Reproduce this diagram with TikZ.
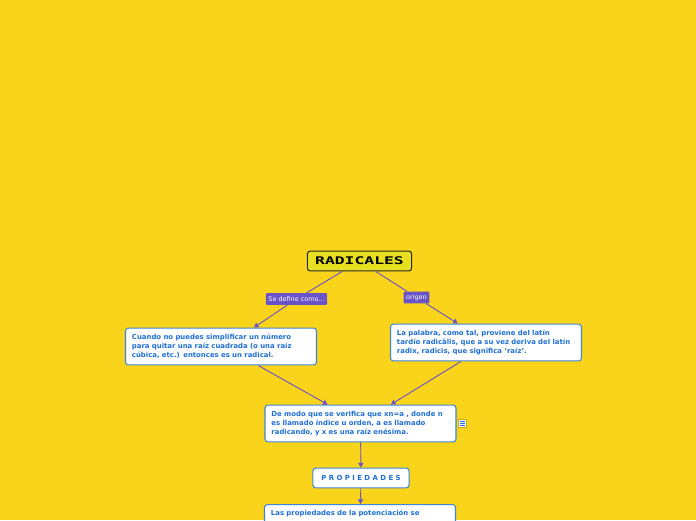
\documentclass[tikz,border=0pt]{standalone}
\usepackage{fontspec}
\setmainfont{DejaVu Sans}
\newfontfamily\titlefont[FakeStretch=1.55]{DejaVu Sans Mono}
\usetikzlibrary{positioning, arrows.meta, calc}
\definecolor{pagebg}{RGB}{250,212,26}
\definecolor{titlebg}{RGB}{230,224,30}
\definecolor{titleframe}{RGB}{40,40,40}
\definecolor{linkcol}{RGB}{106,82,200}
\definecolor{boxframe}{RGB}{61,134,214}
\definecolor{boxtext}{RGB}{30,111,214}

\begin{document}
\begin{tikzpicture}[x=0.03cm, y=-0.03cm,
        topic/.style={draw=titleframe, fill=titlebg, line width=0.9pt, rounded corners=2.5pt, minimum width=89pt, minimum height=17pt, inner sep=0pt, font=\titlefont\fontsize{9}{9}\selectfont\bfseries},
        idea/.style={draw=boxframe, fill=white, line width=0.9pt, rounded corners=2.5pt, minimum width=163pt, minimum height=31.5pt, text width=152pt, align=left, inner xsep=5.5pt, inner ysep=0pt, text=boxtext, font=\fontsize{5.9}{7.6}\selectfont\bfseries},
        tag/.style={fill=linkcol, text=white, rounded corners=0.8pt, inner xsep=2.2pt, minimum height=10pt, inner ysep=0pt, font=\fontsize{5.5}{5.5}\selectfont},
        arr/.style={-{Triangle[length=4pt, width=4.5pt]}, draw=linkcol, line width=0.8pt},
        link/.style={draw=linkcol, line width=0.8pt}
    ]
    \clip (0,0) rectangle (696,520);
    \fill[pagebg] (0,0) rectangle (696,520);

    % Main topic and links
    \node[topic] (radicales) at (359.5,261) {RADICALES};
    \node[tag] (define) at (296.5,299) {Se define como...};
    \node[tag] (origen) at (416.5,297.5) {origen};

    % Ideas
    \node[idea] (cuando) at (221,346.5) {Cuando no puedes simplificar un número\\para quitar una raíz cuadrada (o una raíz\\cúbica, etc.) entonces es un radical.};
    \node[idea] (palabra) at (486,342.5) {La palabra, como tal, proviene del latín\\tardío radicālis, que a su vez deriva del latín\\radix, radīcis, que significa ‘raíz’.};
    \node[idea] (modo) at (360.5,423.5) {De modo que se verifica que xn=a , donde n\\es llamado índice u orden, a es llamado\\radicando, y x es una raíz enésima.};
    \node[idea, minimum width=82pt, minimum height=17pt, text width=, align=center, inner xsep=0pt] (prop) at (361,478) {P R O P I E D A D E S};
    \node[idea, anchor=north, text depth=26pt, minimum height=0pt, inner ysep=5pt] (potencia) at (360,504) {Las propiedades de la potenciación se};

    % Note icon
    \node[fill=white, draw=pagebg!80!black, line width=0.3pt, minimum size=7pt, inner sep=0pt] (nota) at (462.5,423.5) {};
    \foreach \dy in {-1.6,0,1.6}
        \draw[boxtext, line width=0.7pt] ($(nota.center)+(-2.2pt,\dy pt)$) -- ($(nota.center)+(2.2pt,\dy pt)$);

    % Arrows
    \draw[link] (radicales) -- (define);
    \draw[arr] (define) -- (cuando.30);
    \draw[link] (radicales) -- (origen);
    \draw[arr] (origen) -- (palabra.146);
    \draw[arr] (cuando.-27) -- (modo.150);
    \draw[arr] (palabra.217) -- (modo.32);
    \draw[arr] (modo) -- (prop);
    \draw[arr] (prop) -- (potencia);

\end{tikzpicture}
\end{document}
